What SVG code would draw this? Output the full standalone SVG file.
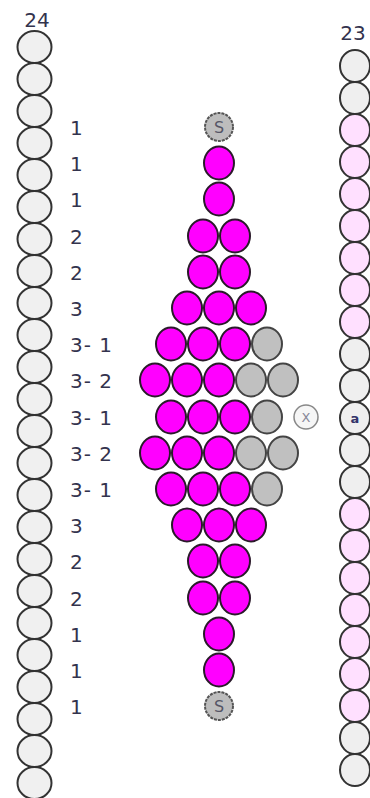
<svg xmlns="http://www.w3.org/2000/svg" width="370" height="798" viewBox="0 0 370 798">
<style>
.bg{fill:#ffffff}
.lb{fill:#f0f0f0;stroke:#333333;stroke-width:2}
.rg{fill:#efefef;stroke:#333333;stroke-width:2}
.rp{fill:#ffe0ff;stroke:#333333;stroke-width:2}
.m{fill:#ff00ff;stroke:#2a1a2a;stroke-width:2}
.g{fill:#c0c0c0;stroke:#444444;stroke-width:2}
.s{fill:#bdbdbd;stroke:#555555;stroke-width:2;stroke-dasharray:3 1}
.st{font-family:"DejaVu Sans",sans-serif;font-size:16px;fill:#555566;text-anchor:middle}
.lab{font-family:"DejaVu Sans",sans-serif;font-size:20px;fill:#33334d;letter-spacing:1px}
.num{font-family:"DejaVu Sans",sans-serif;font-size:20px;fill:#33334d;text-anchor:middle}
</style>
<defs>
<ellipse id="L" cx="0" cy="0" rx="17" ry="16"/>
<ellipse id="R" cx="0" cy="0" rx="15" ry="16"/>
<ellipse id="B" cx="0" cy="0" rx="15" ry="16.5"/>
</defs>
<rect class="bg" x="0" y="0" width="370" height="798"/>

<g id="left-column">
<text class="num" x="37" y="27">24</text>
<use href="#L" class="lb" x="34.5" y="47"/>
<use href="#L" class="lb" x="34.5" y="79"/>
<use href="#L" class="lb" x="34.5" y="111"/>
<use href="#L" class="lb" x="34.5" y="143"/>
<use href="#L" class="lb" x="34.5" y="175"/>
<use href="#L" class="lb" x="34.5" y="207"/>
<use href="#L" class="lb" x="34.5" y="239"/>
<use href="#L" class="lb" x="34.5" y="271"/>
<use href="#L" class="lb" x="34.5" y="303"/>
<use href="#L" class="lb" x="34.5" y="335"/>
<use href="#L" class="lb" x="34.5" y="367"/>
<use href="#L" class="lb" x="34.5" y="399"/>
<use href="#L" class="lb" x="34.5" y="431"/>
<use href="#L" class="lb" x="34.5" y="463"/>
<use href="#L" class="lb" x="34.5" y="495"/>
<use href="#L" class="lb" x="34.5" y="527"/>
<use href="#L" class="lb" x="34.5" y="559"/>
<use href="#L" class="lb" x="34.5" y="591"/>
<use href="#L" class="lb" x="34.5" y="623"/>
<use href="#L" class="lb" x="34.5" y="655"/>
<use href="#L" class="lb" x="34.5" y="687"/>
<use href="#L" class="lb" x="34.5" y="719"/>
<use href="#L" class="lb" x="34.5" y="751"/>
<use href="#L" class="lb" x="34.5" y="783"/>
</g>

<g id="labels">
<text class="lab" x="70" y="135">1</text>
<text class="lab" x="70" y="171">1</text>
<text class="lab" x="70" y="207">1</text>
<text class="lab" x="70" y="244">2</text>
<text class="lab" x="70" y="280">2</text>
<text class="lab" x="70" y="316">3</text>
<text class="lab" x="70" y="352">3- 1</text>
<text class="lab" x="70" y="388">3- 2</text>
<text class="lab" x="70" y="425">3- 1</text>
<text class="lab" x="70" y="461">3- 2</text>
<text class="lab" x="70" y="497">3- 1</text>
<text class="lab" x="70" y="533">3</text>
<text class="lab" x="70" y="569">2</text>
<text class="lab" x="70" y="606">2</text>
<text class="lab" x="70" y="642">1</text>
<text class="lab" x="70" y="678">1</text>
<text class="lab" x="70" y="714">1</text>
</g>

<g id="pattern">
<g id="row-0"><circle class="s" cx="219" cy="127" r="14"/><text class="st" x="219" y="133">S</text></g>
<g id="row-1"><use href="#B" class="m" x="219" y="163"/></g>
<g id="row-2"><use href="#B" class="m" x="219" y="199"/></g>
<g id="row-3"><use href="#B" class="m" x="203" y="236"/><use href="#B" class="m" x="235" y="236"/></g>
<g id="row-4"><use href="#B" class="m" x="203" y="272"/><use href="#B" class="m" x="235" y="272"/></g>
<g id="row-5"><use href="#B" class="m" x="187" y="308"/><use href="#B" class="m" x="219" y="308"/><use href="#B" class="m" x="251" y="308"/></g>
<g id="row-6"><use href="#B" class="m" x="171" y="344"/><use href="#B" class="m" x="203" y="344"/><use href="#B" class="m" x="235" y="344"/><use href="#B" class="g" x="267" y="344"/></g>
<g id="row-7"><use href="#B" class="m" x="155" y="380"/><use href="#B" class="m" x="187" y="380"/><use href="#B" class="m" x="219" y="380"/><use href="#B" class="g" x="251" y="380"/><use href="#B" class="g" x="283" y="380"/></g>
<g id="row-8"><use href="#B" class="m" x="171" y="417"/><use href="#B" class="m" x="203" y="417"/><use href="#B" class="m" x="235" y="417"/><use href="#B" class="g" x="267" y="417"/></g>
<g id="row-9"><use href="#B" class="m" x="155" y="453"/><use href="#B" class="m" x="187" y="453"/><use href="#B" class="m" x="219" y="453"/><use href="#B" class="g" x="251" y="453"/><use href="#B" class="g" x="283" y="453"/></g>
<g id="row-10"><use href="#B" class="m" x="171" y="489"/><use href="#B" class="m" x="203" y="489"/><use href="#B" class="m" x="235" y="489"/><use href="#B" class="g" x="267" y="489"/></g>
<g id="row-11"><use href="#B" class="m" x="187" y="525"/><use href="#B" class="m" x="219" y="525"/><use href="#B" class="m" x="251" y="525"/></g>
<g id="row-12"><use href="#B" class="m" x="203" y="561"/><use href="#B" class="m" x="235" y="561"/></g>
<g id="row-13"><use href="#B" class="m" x="203" y="598"/><use href="#B" class="m" x="235" y="598"/></g>
<g id="row-14"><use href="#B" class="m" x="219" y="634"/></g>
<g id="row-15"><use href="#B" class="m" x="219" y="670"/></g>
<g id="row-16"><circle class="s" cx="219" cy="706" r="14"/><text class="st" x="219" y="712">S</text></g>
<g id="x-mark"><circle cx="306" cy="417" r="12" fill="#f6f6f6" stroke="#888888" stroke-width="1.5"/><text x="306" y="422" font-family="DejaVu Sans, sans-serif" font-size="13" fill="#888899" text-anchor="middle">X</text></g>
</g>

<g id="right-column">
<text class="num" x="353" y="40">23</text>
<use href="#R" class="rg" x="355" y="66"/>
<use href="#R" class="rg" x="355" y="98"/>
<use href="#R" class="rp" x="355" y="130"/>
<use href="#R" class="rp" x="355" y="162"/>
<use href="#R" class="rp" x="355" y="194"/>
<use href="#R" class="rp" x="355" y="226"/>
<use href="#R" class="rp" x="355" y="258"/>
<use href="#R" class="rp" x="355" y="290"/>
<use href="#R" class="rp" x="355" y="322"/>
<use href="#R" class="rg" x="355" y="354"/>
<use href="#R" class="rg" x="355" y="386"/>
<g id="marker-bead"><use href="#R" class="rg" x="355" y="418"/><text x="355" y="423" font-family="DejaVu Sans, sans-serif" font-size="13" font-weight="bold" fill="#33336a" text-anchor="middle">a</text></g>
<use href="#R" class="rg" x="355" y="450"/>
<use href="#R" class="rg" x="355" y="482"/>
<use href="#R" class="rp" x="355" y="514"/>
<use href="#R" class="rp" x="355" y="546"/>
<use href="#R" class="rp" x="355" y="578"/>
<use href="#R" class="rp" x="355" y="610"/>
<use href="#R" class="rp" x="355" y="642"/>
<use href="#R" class="rp" x="355" y="674"/>
<use href="#R" class="rp" x="355" y="706"/>
<use href="#R" class="rg" x="355" y="738"/>
<use href="#R" class="rg" x="355" y="770"/>
</g>
</svg>
